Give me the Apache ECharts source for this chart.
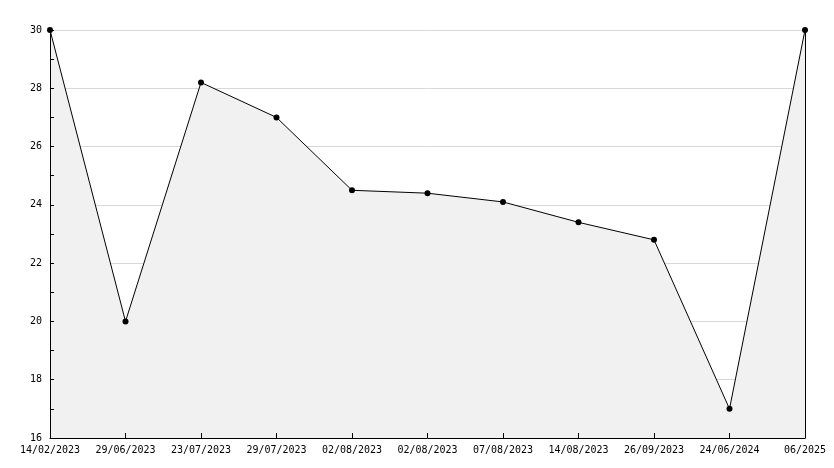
<!DOCTYPE html>
<html>
<head>
<meta charset="utf-8">
<script src="https://cdn.jsdelivr.net/npm/echarts@6/dist/echarts.min.js"></script>
<style>
html,body{margin:0;padding:0;background:#fff;}
#c{width:834px;height:468px;}
</style>
</head>
<body>
<div id="c"></div>
<script>
const categories = ["14/02/2023","29/06/2023","23/07/2023","29/07/2023","02/08/2023","02/08/2023","07/08/2023","14/08/2023","26/09/2023","24/06/2024","06/2025"];
const values = [30, 20, 28.2, 27.0, 24.5, 24.4, 24.1, 23.4, 22.8, 17.0, 30];
const yMin = 16, yMax = 30, yStep = 2;

const font = {fontFamily: "DejaVu Sans Mono", fontSize: 10, color: "#000"};
const chart = echarts.init(document.getElementById('c'), null, {renderer: 'canvas'});
chart.setOption({
  animation: false,
  backgroundColor: '#fff',
  grid: {left: 50, right: 29, top: 30, bottom: 30, containLabel: false},
  xAxis: {
    type: 'category',
    data: categories,
    boundaryGap: false,
    z: 10,
    axisLine: {show: true, lineStyle: {color: '#000', width: 1}},
    axisTick: {show: true, inside: true, length: 5, interval: 0, lineStyle: {color: '#000'}},
    axisLabel: Object.assign({margin: 7, interval: 0}, font),
    splitLine: {show: false}
  },
  yAxis: [{
    type: 'value',
    min: yMin, max: yMax, interval: yStep,
    z: 0,
    axisLine: {show: false},
    axisTick: {show: false},
    axisLabel: {show: false},
    splitLine: {show: true, lineStyle: {color: '#d8d8d8', width: 1}}
  }, {
    type: 'value',
    min: yMin, max: yMax, interval: yStep,
    position: 'right',
    z: 10,
    axisLine: {show: true, lineStyle: {color: '#000', width: 1}},
    axisTick: {show: false},
    axisLabel: {show: false},
    splitLine: {show: false}
  }, {
    type: 'value',
    min: yMin, max: yMax, interval: yStep,
    position: 'left',
    offset: 0,
    z: 10,
    axisLine: {show: true, lineStyle: {color: '#000', width: 1}},
    axisTick: {show: true, inside: true, length: 4, lineStyle: {color: '#000'}},
    minorTick: {show: true, splitNumber: 2, length: 4, lineStyle: {color: '#000'}},
    axisLabel: Object.assign({margin: 8}, font),
    splitLine: {show: false}
  }],
  series: [{
    type: 'line',
    data: values,
    yAxisIndex: 0,
    symbol: 'circle',
    symbolSize: 6,
    showAllSymbol: true,
    itemStyle: {color: '#000'},
    lineStyle: {color: '#000', width: 1},
    areaStyle: {color: '#f1f1f1', opacity: 1}
  }]
});
</script>
</body>
</html>
